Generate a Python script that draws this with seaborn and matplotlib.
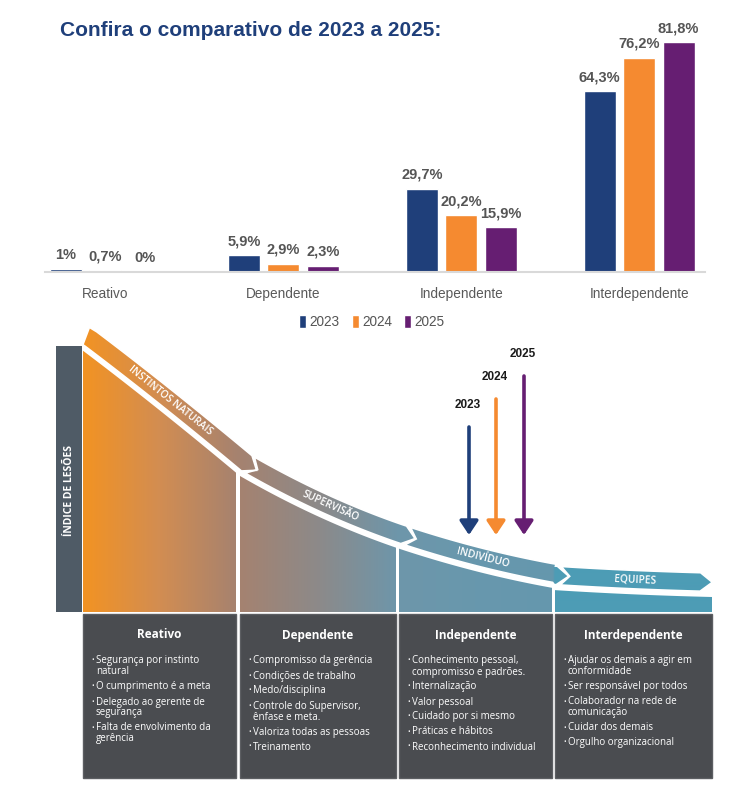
import numpy as np
import pandas as pd
import matplotlib
matplotlib.use('Agg')
import matplotlib.pyplot as plt
import seaborn as sns
from matplotlib import font_manager
from matplotlib.patches import Polygon, Rectangle

# dados do comparativo
categories = ['Reativo', 'Dependente', 'Independente', 'Interdependente']
years = ['2023', '2024', '2025']
values_2023 = [1.0, 5.9, 29.7, 64.3]
values_2024 = [0.7, 2.9, 20.2, 76.2]
values_2025 = [0.0, 2.3, 15.9, 81.8]
year_colors = ['#1F3F7A', '#F58A30', '#661E72']

band_labels = ['INSTINTOS NATURAIS', 'SUPERVISÃO', 'INDIVÍDUO', 'EQUIPES']
stage_bullets = [
    ['Segurança por instinto\nnatural', 'O cumprimento é a meta',
     'Delegado ao gerente de\nsegurança', 'Falta de envolvimento da\ngerência'],
    ['Compromisso da gerência', 'Condições de trabalho', 'Medo/disciplina',
     'Controle do Supervisor,\nênfase e meta.', 'Valoriza todas as pessoas', 'Treinamento'],
    ['Conhecimento pessoal,\ncompromisso e padrões.', 'Internalização', 'Valor pessoal',
     'Cuidado por si mesmo', 'Práticas e hábitos', 'Reconhecimento individual'],
    ['Ajudar os demais a agir em\nconformidade', 'Ser responsável por todos',
     'Colaborador na rede de\ncomunicação', 'Cuidar dos demais', 'Orgulho organizacional'],
]

sns.set_theme(style='white')
names = {f.name for f in font_manager.fontManager.ttflist}
narrow = 'Liberation Sans Narrow' if 'Liberation Sans Narrow' in names else 'Liberation Sans'
body = 'Open Sans' if 'Open Sans' in names else 'DejaVu Sans'
plt.rcParams['font.family'] = ['Liberation Sans', 'DejaVu Sans']

W, H = 750, 792
fig = plt.figure(figsize=(7.5, 7.92), dpi=100)
fig.patch.set_facecolor('white')


def fx(px):
    return px / W


def fy(py):
    return 1 - py / H


# ---- grafico de barras ----
df = pd.DataFrame({
    'categoria': categories * 3,
    'ano': [y for y in years for _ in categories],
    'valor': values_2023 + values_2024 + values_2025,
})

ax = fig.add_axes([fx(45), fy(272), (705 - 45) / W, (272 - 19) / H])
sns.barplot(data=df, x='categoria', y='valor', hue='ano', order=categories,
            hue_order=years, palette=year_colors, saturation=1,
            width=0.666, gap=0.19, ax=ax, errorbar=None)
ax.set_xlim(-0.34, 3.37)
ax.set_ylim(0, 90)
ax.set_xlabel('')
ax.set_ylabel('')
ax.set_yticks([])
for s in ['top', 'right', 'left']:
    ax.spines[s].set_visible(False)
ax.spines['bottom'].set_color('#d9d9d9')
ax.spines['bottom'].set_linewidth(1.5)
ax.tick_params(axis='x', length=0, pad=11)
for lbl in ax.get_xticklabels():
    lbl.set_family(narrow)
    lbl.set_fontsize(9.8)
    lbl.set_color('#595959')


def fmt(v):
    if float(v).is_integer():
        return f'{v:.0f}%'
    return f'{v:.1f}%'.replace('.', ',')


for cont, vals in zip(ax.containers, [values_2023, values_2024, values_2025]):
    ax.bar_label(cont, labels=[fmt(v) for v in vals], padding=5, fontsize=10.5,
                 fontweight='bold', color='#555555', family=narrow)

handles, labels = ax.get_legend_handles_labels()
ax.legend(handles, labels, loc='center', bbox_to_anchor=(fx(372), fy(322)),
          bbox_transform=fig.transFigure, ncol=3, frameon=False,
          handlelength=0.5, handleheight=1.1, handletextpad=0.25,
          columnspacing=0.9, prop=dict(family=narrow, size=9.8),
          labelcolor='#555555')

fig.text(fx(60), fy(31), 'Confira o comparativo de 2023 a 2025:', fontsize=15,
         fontweight='bold', color='#1F3F7A', va='center', ha='left')

# ---- diagrama da curva ----
dax = fig.add_axes([0, 0, 1, 1])
dax.set_xlim(0, W)
dax.set_ylim(H, 0)
dax.axis('off')

# curva em trechos (bezier quadratica)
seg_ctrl = [((82, 347), (155, 402), (240, 473)),
            ((240, 473), (318, 518), (397, 545)),
            ((397, 545), (475, 571), (553, 585)),
            ((553, 587), (630, 592), (712, 594))]
t = np.linspace(0, 1, 60)
cx, cy = [], []
for p0, c, p2 in seg_ctrl:
    p0, c, p2 = np.array(p0), np.array(c), np.array(p2)
    pts = ((1 - t) ** 2)[:, None] * p0 + (2 * (1 - t) * t)[:, None] * c + (t ** 2)[:, None] * p2
    cx.extend(pts[:, 0])
    cy.extend(pts[:, 1])
cx, cy = np.array(cx), np.array(cy)


def curve(x):
    y = np.interp(x, cx, cy)
    s = (np.interp(x + 0.5, cx, cy) - np.interp(x - 0.5, cx, cy))
    n = np.sqrt(1 + s ** 2)
    return y, s, n


def offset(x, d):
    y, s, n = curve(x)
    return x + d * s / n, y - d / n


def along(x, d, L):
    y, s, n = curve(x)
    return x + d * s / n + L / n, y - d / n + L * s / n


stops_x = [82, 160, 237, 320, 397, 475, 553, 555, 712]
stops_c = ['#F39322', '#D28D52', '#A6826F', '#8C8A8A', '#6E96AA',
           '#6898AD', '#6597AD', '#4D9CB5', '#4D9CB5']
rgb = np.array([matplotlib.colors.to_rgb(c) for c in stops_c])
xs = np.arange(W) + 0.5
grad = np.stack([np.interp(xs, stops_x, rgb[:, k]) for k in range(3)], axis=-1)
grad = np.repeat(grad[None, :, :], 2, axis=0)


def gradient_patch(verts):
    poly = Polygon(verts, closed=True, facecolor='none', edgecolor='none')
    dax.add_patch(poly)
    im = dax.imshow(grad, extent=(0, W, H, 0), aspect='auto', interpolation='bilinear', zorder=1)
    im.set_clip_path(poly)


# colunas preenchidas
cols = [(83, 236), (240, 396), (399, 552), (555, 712)]
for xl, xr in cols:
    xx = np.linspace(xl, xr, 80)
    top = np.interp(xx, cx, cy) + 3
    verts = list(zip(xx, top)) + [(xr, 612), (xl, 612)]
    gradient_patch(verts)

# faixas com seta
bands = [(82, 240), (244, 400), (404, 556), (560, 700)]
d1, d2 = 2.5, 21
dm = (d1 + d2) / 2
for i, (xa, xb) in enumerate(bands):
    xx = np.linspace(xa, xb, 80)
    bottom = [offset(x, d1) for x in xx]
    topl = [offset(x, d2) for x in xx[::-1]]
    verts = bottom + [along(xb, dm, 12)] + topl
    if i > 0:
        verts += [along(xa, dm, 9)]
    gradient_patch(verts)
    dax.add_patch(Polygon(verts, closed=True, facecolor='none', edgecolor='white',
                          lw=1.2, zorder=2))

label_x = [163, 326, 480, 635]
for lab, x in zip(band_labels, label_x):
    px, py = offset(x, dm)
    _, s, _ = curve(x)
    dax.text(px, py, lab, rotation=-np.degrees(np.arctan(s)), rotation_mode='anchor',
             ha='center', va='center', color='white', fontsize=7.3, fontweight='semibold',
             family=body, zorder=3)

# barra vertical
dax.add_patch(Rectangle((56, 346), 26, 266, facecolor='#4F5B66', edgecolor='none', zorder=2))
dax.text(69, 491, 'ÍNDICE DE LESÕES', rotation=90, ha='center', va='center',
         color='white', fontsize=7.5, fontweight='bold', family=body, zorder=3)

# caixas de texto
for (xl, xr), title, bullets in zip(cols, categories, stage_bullets):
    dax.add_patch(Rectangle((xl, 614), xr - xl, 164, facecolor='#4A4C50',
                            edgecolor='#5c5e62', lw=1, zorder=2))
    dax.text((xl + xr) / 2, 635, title, ha='center', va='center', color='white',
             fontsize=8.5, fontweight='bold', family=body, zorder=3)
    y = 661
    for b in bullets:
        dax.text(xl + 8, y, '•', ha='left', va='center', color='white', fontsize=5,
                 family=body, zorder=3)
        for line in b.split('\n'):
            dax.text(xl + 13, y, line, ha='left', va='center', color='white',
                     fontsize=7, family=body, zorder=3)
            y += 11
        y += 4

# setas dos anos
arrow_x = [469, 496, 524]
arrow_top = [427, 399, 376]
for yr, c, x, top in zip(years, year_colors, arrow_x, arrow_top):
    dax.annotate('', xy=(x, 535), xytext=(x, top),
                 arrowprops=dict(arrowstyle='-|>,head_width=0.4,head_length=0.6',
                                 color=c, lw=2.6, shrinkA=0, shrinkB=0, mutation_scale=14),
                 zorder=4)
    dax.text(x - 1, top - 22, yr, ha='center', va='center', fontsize=8.5,
             fontweight='bold', color='#1a1a1a', zorder=4)

fig.savefig('out.png', dpi=100, facecolor='white')
